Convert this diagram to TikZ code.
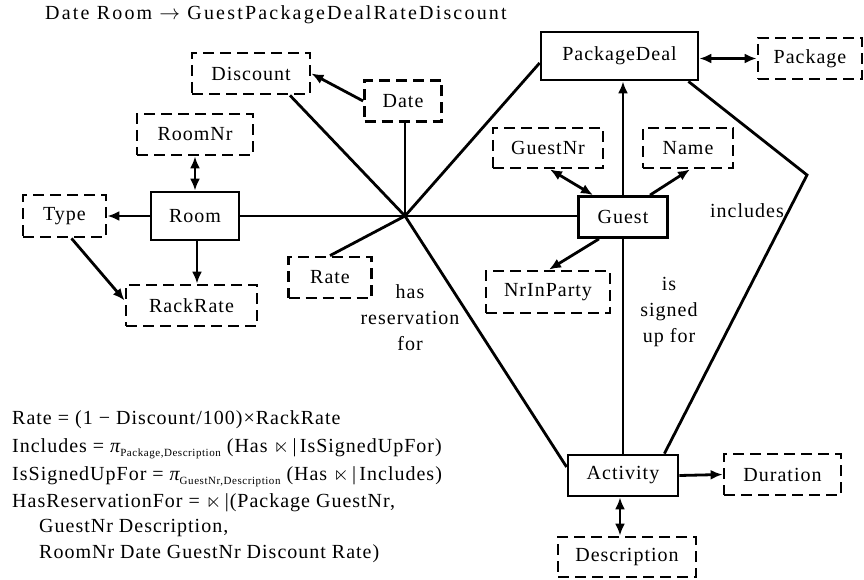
\documentclass[tikz,border=0pt]{standalone}
\usepackage{fontspec}
\usepackage{amssymb}
\setmainfont{Liberation Serif}[LetterSpace=5]
\usetikzlibrary{arrows.meta}

% small lowered subscript set in text
\newcommand{\lowsub}[1]{\raisebox{-0.45ex}{\fontsize{11}{11}\selectfont #1}}

\begin{document}
\begin{tikzpicture}[x=1pt, y=-1pt,
  every node/.style={font=\fontsize{20}{26}\selectfont},
  ent/.style={draw, line width=2.8pt, inner sep=0pt},
  attr/.style={draw, line width=2.8pt, dash pattern=on 11pt off 6pt, inner sep=0pt},
  link/.style={line width=2.8pt},
  arr/.style={link, -{Latex[length=12pt,width=10pt]}},
  darr/.style={link, {Latex[length=12pt,width=10pt]}-{Latex[length=12pt,width=10pt]}},
  lbl/.style={align=center, inner sep=0pt},
  formula/.style={anchor=base west, inner sep=0pt}
]
\useasboundingbox (0,0) rectangle (864,580);

% functional dependency heading
\node[anchor=west, inner sep=0pt] (fd) at (45,15) {\addfontfeatures{LetterSpace=11}Date Room $\rightarrow$ GuestPackageDealRateDiscount};

% entity sets
\node[ent, minimum width=88pt, minimum height=48pt] (room) at (195,216) {Room};
\node[ent, minimum width=89pt, minimum height=41pt] (guest) at (623,217) {Guest};
\node[ent, minimum width=157pt, minimum height=48pt] (pkgdeal) at (619.5,56) {PackageDeal};
\node[ent, minimum width=110pt, minimum height=41pt] (activity) at (623,475.5) {Activity};

% attributes
\node[attr, minimum width=118pt, minimum height=41pt] (discount) at (251,73.5) {Discount};
\node[attr, minimum width=77pt, minimum height=41pt] (date) at (403,101) {Date};
\node[attr, minimum width=116pt, minimum height=41pt] (roomnr) at (195,134.5) {RoomNr};
\node[attr, minimum width=83pt, minimum height=42pt] (type) at (64.5,216) {Type};
\node[attr, minimum width=131pt, minimum height=41pt] (rackrate) at (191.5,305.5) {RackRate};
\node[attr, minimum width=83pt, minimum height=41pt] (rate) at (330,277.5) {Rate};
\node[attr, minimum width=104pt, minimum height=41pt] (package) at (810,58.5) {Package};
\node[attr, minimum width=110pt, minimum height=40pt] (guestnr) at (548,148) {GuestNr};
\node[attr, minimum width=90pt, minimum height=40pt] (name) at (688,148) {Name};
\node[attr, minimum width=124pt, minimum height=42pt] (nrinparty) at (548,292) {NrInParty};
\node[attr, minimum width=117pt, minimum height=41pt] (duration) at (782.5,474.5) {Duration};
\node[attr, minimum width=138pt, minimum height=40pt] (description) at (627,557) {Description};

% relationship hubs and bends
\coordinate (hub) at (405,216);
\coordinate (bend) at (807,175);

% relationship labels
\node[lbl] (hasres) at (410,318) {has\\reservation\\for};
\node[lbl] (incl) at (747,211) {includes};
\node[lbl] (signed) at (669,312) {is\\signed\\up for};

% room attributes
\draw[darr] (roomnr) -- (room);
\draw[arr] (room) -- (type);
\draw[arr] ([xshift=2pt]room.south) -- ([xshift=2pt]room.south |- rackrate.north);
\draw[arr] ([xshift=7pt]type.south) -- ([yshift=5pt]rackrate.west);
\draw[arr] (date.west) -- (discount.east);

% has reservation for
\draw[link] (room.east) -- (hub);
\draw[link] (hub) -- (hub -| guest.west);
\draw[link] (hub) -- (hub |- date.south);
\draw[link] (hub) -- ([xshift=39pt]discount.south);
\draw[link] (hub) -- ([yshift=-7pt]pkgdeal.west);
\draw[link] (hub) -- (rate.north);
\draw[link] (hub) -- ([yshift=8.5pt]activity.west);

% guest attributes and links
\draw[arr] (guest.north) -- (guest.north |- pkgdeal.south);
\draw[link] (guest.south) -- (activity.north);
\draw[darr] ([xshift=-30pt]guest.north) -- ([xshift=2pt]guestnr.south);
\draw[arr] ([xshift=27pt]guest.north) -- ([xshift=2pt]name.south);
\draw[arr] ([xshift=-24pt]guest.south) -- ([xshift=1pt]nrinparty.north);

% package deal
\draw[darr] (pkgdeal.east |- package.west) -- (package.west);
\draw[link] ([xshift=-11pt]pkgdeal.south east) -- (bend) -- ([xshift=-15pt]activity.north east);

% activity attributes
\draw[arr] (activity.east) -- (duration.west);
\draw[darr] ([xshift=-3pt]activity.south) -- ([xshift=-3pt]activity.south |- description.north);

% constraints
\node[formula] (f1) at (12,424) {Rate = (1 − Discount/100)×RackRate};
\node[formula] (f2) at (12,452) {Includes = {\itshape π}\lowsub{Package,Description} (Has \(\ltimes\)\,|\,IsSignedUpFor)};
\node[formula] (f3) at (12,480) {IsSignedUpFor = {\itshape π}\lowsub{GuestNr,Description} (Has \(\ltimes\)\,|\,Includes)};
\node[formula] (f4) at (12,507) {HasReservationFor = \(\ltimes\)\,|(Package GuestNr,};
\node[formula] (f5) at (39,532) {GuestNr Description,};
\node[formula] (f6) at (39,558) {RoomNr Date GuestNr Discount Rate)};
\end{tikzpicture}
\end{document}
